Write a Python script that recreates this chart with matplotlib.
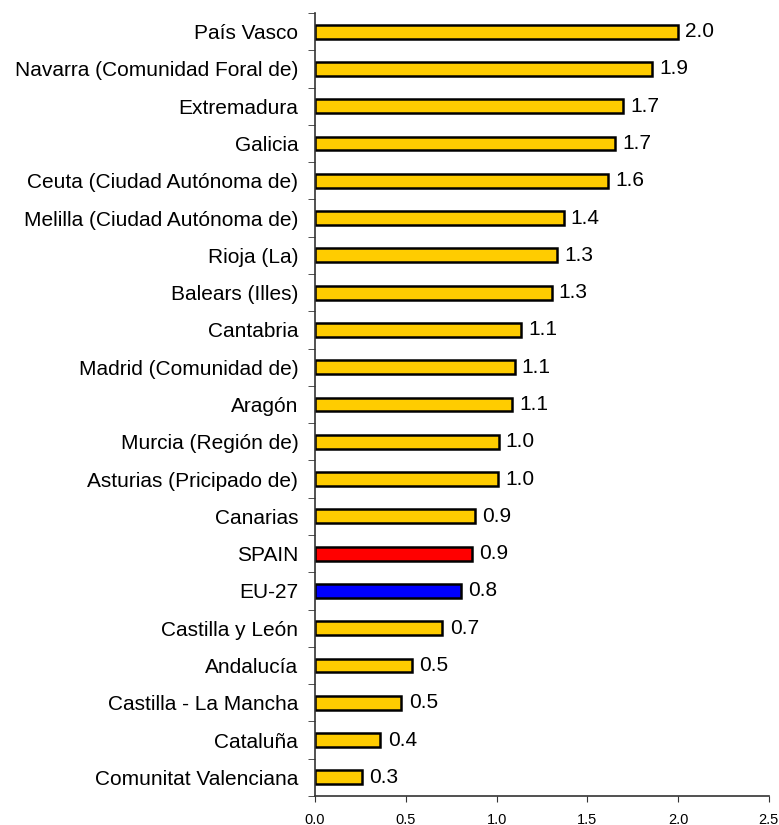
import numpy as np
import matplotlib.pyplot as plt
from matplotlib.ticker import FixedLocator

plt.rcParams['font.family'] = ['Liberation Sans', 'DejaVu Sans']

regions = ["País Vasco", "Navarra (Comunidad Foral de)", "Extremadura", "Galicia",
           "Ceuta (Ciudad Autónoma de)", "Melilla (Ciudad Autónoma de)", "Rioja (La)",
           "Balears (Illes)", "Cantabria", "Madrid (Comunidad de)", "Aragón",
           "Murcia (Región de)", "Asturias (Pricipado de)", "Canarias", "SPAIN", "EU-27",
           "Castilla y León", "Andalucía", "Castilla - La Mancha", "Cataluña",
           "Comunitat Valenciana"]
values = [2.0, 1.855, 1.697, 1.654, 1.616, 1.369, 1.333, 1.303, 1.134, 1.099, 1.085,
          1.011, 1.006, 0.88, 0.862, 0.803, 0.702, 0.535, 0.476, 0.36, 0.26]

colors = []
for r in regions:
    if r == "SPAIN":
        colors.append('#FF0000')
    elif r == "EU-27":
        colors.append('#0000FF')
    else:
        colors.append('#FFCC00')

fig = plt.figure(figsize=(7.79, 8.25), dpi=100)
ax = fig.add_axes([0.4044, 0.0352, 0.5826, 0.9490])

y = np.arange(len(regions))[::-1]
ax.barh(y, values, height=0.37, color=colors, edgecolor='black', linewidth=1.8)

for yi, v in zip(y, values):
    ax.text(v + 0.04, yi, "{:.1f}".format(v), va='center', ha='left', fontsize=15)

ax.set_xlim(0, 2.5)
ax.set_ylim(-0.5, len(regions) - 0.5)
ax.set_xticks([0, 0.5, 1.0, 1.5, 2.0, 2.5])
ax.set_xticklabels(["0.0", "0.5", "1.0", "1.5", "2.0", "2.5"], fontsize=10.5)
ax.set_yticks(y)
ax.set_yticklabels(regions, fontsize=15)
ax.tick_params(axis='y', length=0, pad=12)
ax.yaxis.set_minor_locator(FixedLocator(np.arange(-0.5, len(regions), 1.0)))
ax.tick_params(axis='y', which='minor', length=5, color='#333333')
ax.tick_params(axis='x', length=4, color='#333333', pad=8)

for s in ['top', 'right']:
    ax.spines[s].set_visible(False)
for s in ['left', 'bottom']:
    ax.spines[s].set_color('#333333')
    ax.spines[s].set_linewidth(1.2)

plt.savefig('out.png', dpi=100)
